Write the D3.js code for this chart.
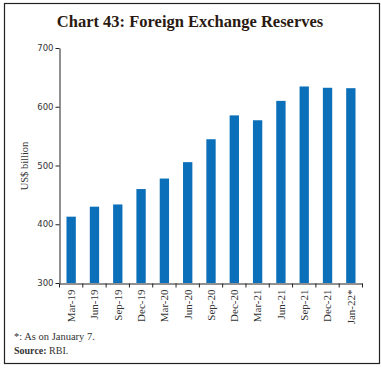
<!DOCTYPE html>
<html>
<head>
<meta charset="utf-8">
<script src="https://cdn.jsdelivr.net/npm/d3@7"></script>
<style>
  body { margin: 0; background: #fff; }
  svg { display: block; }
  .axis text { font-family: "DejaVu Sans", sans-serif; font-size: 8.5px; fill: #333; }
  .axis.x text { font-family: "Liberation Serif", serif; font-size: 11px; fill: #333; }
  .axis path, .axis line { stroke: #222; }
</style>
</head>
<body>
<svg width="381" height="368"></svg>
<script>
const categories = ['Mar-19', 'Jun-19', 'Sep-19', 'Dec-19', 'Mar-20', 'Jun-20', 'Sep-20',
  'Dec-20', 'Mar-21', 'Jun-21', 'Sep-21', 'Dec-21', 'Jan-22*'];
const reserves = [412.9, 429.9, 433.7, 459.9, 477.8, 505.7, 544.7, 585.3, 577.0, 610.0, 634.5, 632.3, 631.6];
const yTicks = [300, 400, 500, 600, 700];

const svg = d3.select('svg');

// frame
svg.append('rect')
  .attr('x', 4.5).attr('y', 3.5)
  .attr('width', 375).attr('height', 360)
  .attr('fill', 'none')
  .attr('stroke', '#222')
  .attr('stroke-width', 1.2);

svg.append('text')
  .text('Chart 43: Foreign Exchange Reserves')
  .attr('x', 190).attr('y', 27)
  .attr('text-anchor', 'middle')
  .style('font-family', '"Liberation Serif", serif')
  .style('font-weight', 'bold')
  .style('font-size', '16.5px')
  .style('fill', '#2a1a12');

const xScale = d3.scaleBand().domain(categories).range([59.5, 362.5]).paddingInner(0.6).paddingOuter(0.3);
const yScale = d3.scaleLinear().domain([300, 700]).range([283, 48]);

const xAxis = d3.axisBottom(xScale).tickSize(0).tickSizeOuter(0);
const yAxis = d3.axisLeft(yScale).tickValues(yTicks).tickSize(4).tickSizeOuter(0);

svg.append('g')
  .attr('class', 'axis y')
  .attr('transform', 'translate(59.5, 0)')
  .call(yAxis)
  .call(g => g.selectAll('text').attr('x', -6));

svg.append('text')
  .text('US$ billion')
  .attr('transform', 'translate(28, 166) rotate(-90)')
  .attr('text-anchor', 'middle')
  .style('font-family', '"Liberation Serif", serif')
  .style('font-size', '10.5px')
  .style('fill', '#333');

svg.selectAll('rect.bar')
  .data(reserves)
  .enter()
  .append('rect')
    .attr('class', 'bar')
    .attr('x', (d, i) => xScale(categories[i]))
    .attr('width', xScale.bandwidth())
    .attr('y', (d) => yScale(d))
    .attr('height', (d) => yScale(300) - yScale(d))
    .style('fill', '#0b6fba');

const xg = svg.append('g')
  .attr('class', 'axis x')
  .attr('transform', 'translate(0, 283.5)')
  .call(xAxis);

xg.selectAll('text')
  .attr('transform', 'rotate(-90)')
  .attr('x', -6)
  .attr('y', 0)
  .attr('dy', '0.35em')
  .style('text-anchor', 'end');

// ticks between bands
const step = xScale.step();
const edges = d3.range(categories.length + 1).map(i => 59.5 + i * step);
xg.selectAll('line.sep')
  .data(edges)
  .enter()
  .append('line')
    .attr('class', 'sep')
    .attr('x1', d => d).attr('x2', d => d)
    .attr('y1', 0).attr('y2', 4);

svg.append('text')
  .text('*: As on January 7.')
  .attr('x', 14).attr('y', 340)
  .style('font-family', '"Liberation Serif", serif')
  .style('font-size', '10.5px')
  .style('fill', '#333');

const src = svg.append('text')
  .attr('x', 14).attr('y', 354)
  .style('font-family', '"Liberation Serif", serif')
  .style('font-size', '10px')
  .style('fill', '#333');
src.append('tspan').text('Source: ').style('font-weight', 'bold');
src.append('tspan').text('RBI.');
</script>
</body>
</html>
